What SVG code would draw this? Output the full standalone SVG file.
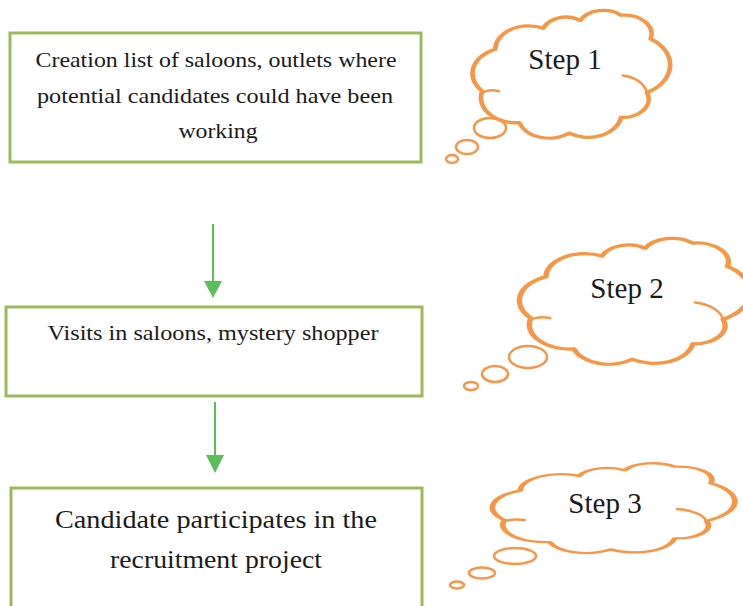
<svg xmlns="http://www.w3.org/2000/svg" width="743" height="606" viewBox="0 0 743 606">
<style>
.box{fill:#fff;stroke:#9BBB59;stroke-width:3}
.txt{font-family:"Liberation Serif",serif;fill:#1a1a1a;text-anchor:middle}
.cloud{fill:#fff;stroke:#F79646;stroke-width:2.5;vector-effect:non-scaling-stroke;stroke-linejoin:round}
.hook{fill:none;stroke:#F79646;stroke-width:2.5;vector-effect:non-scaling-stroke;stroke-linecap:round}
.bub{fill:#fff;stroke:#F79646;stroke-width:2.5}
.conn{stroke:#5BBD5B;stroke-width:2;fill:none}
.head{fill:#5BBD5B}
</style>
<defs>
<path id="cloudShape" d="M12,30 A18,18 0 0 1 38,14 A13,13 0 0 1 58,8 A14,14 0 0 1 80,4 A14.5,14.5 0 0 1 96,22 A24,24 0 0 1 94,63 A14,14 0 0 1 80,82 A18,18 0 0 1 52,94 A17,17 0 0 1 25,86 A19,19 0 0 1 5,62 A20,20 0 0 1 12,30 Z"/>
</defs>
<rect width="743" height="606" fill="#fff"/>

<g id="connectors">
<line class="conn" x1="213" y1="224" x2="213" y2="284"/>
<polygon class="head" points="204,281 222,281 213,298"/>
<line class="conn" x1="215" y1="402" x2="215" y2="458"/>
<polygon class="head" points="206,455 224,455 215,473"/>
</g>

<g id="box1">
<rect class="box" x="10" y="33" width="411" height="129"/>
<text class="txt" x="216" y="67" font-size="21" textLength="361" lengthAdjust="spacingAndGlyphs">Creation list of saloons, outlets where</text>
<text class="txt" x="215" y="103" font-size="21" textLength="356" lengthAdjust="spacingAndGlyphs">potential candidates could have been</text>
<text class="txt" x="218" y="138" font-size="21" textLength="79" lengthAdjust="spacingAndGlyphs">working</text>
</g>

<g id="box2">
<rect class="box" x="6" y="307" width="416" height="89"/>
<text class="txt" x="213" y="340" font-size="21" textLength="331" lengthAdjust="spacingAndGlyphs">Visits in saloons, mystery shopper</text>
</g>

<g id="box3">
<rect class="box" x="11" y="488" width="411" height="140"/>
<text class="txt" x="216" y="528" font-size="25" textLength="322" lengthAdjust="spacingAndGlyphs">Candidate participates in the</text>
<text class="txt" x="216" y="568" font-size="25" textLength="212" lengthAdjust="spacingAndGlyphs">recruitment project</text>
</g>

<g id="step1">
<ellipse class="bub" cx="452" cy="159" rx="6" ry="4"/>
<ellipse class="bub" cx="467" cy="147" rx="11" ry="7"/>
<ellipse class="bub" cx="490" cy="128" rx="16" ry="10"/>
<g transform="translate(473,10) scale(1.85,1.31)">
<use href="#cloudShape" class="cloud"/>
<path class="hook" d="M81,50 A16,16 0 0 1 94,63"/>
<path class="hook" d="M4,64 A10,10 0 0 1 14,62"/>
</g>
<text class="txt" x="565" y="69" font-size="29">Step 1</text>
</g>

<g id="step2">
<ellipse class="bub" cx="471" cy="386" rx="7" ry="4"/>
<ellipse class="bub" cx="495" cy="374" rx="13" ry="8"/>
<ellipse class="bub" cx="528" cy="357" rx="19" ry="11"/>
<g transform="translate(520,238) scale(2.16,1.29)">
<use href="#cloudShape" class="cloud"/>
<path class="hook" d="M81,50 A16,16 0 0 1 94,63"/>
<path class="hook" d="M4,64 A10,10 0 0 1 14,62"/>
</g>
<text class="txt" x="627" y="298" font-size="29">Step 2</text>
</g>

<g id="step3">
<ellipse class="bub" cx="457" cy="585" rx="7" ry="3.5"/>
<ellipse class="bub" cx="482" cy="573" rx="13" ry="5.5"/>
<ellipse class="bub" cx="515" cy="556" rx="21" ry="8"/>
<g transform="translate(493,463) scale(2.27,0.92)">
<use href="#cloudShape" class="cloud"/>
<path class="hook" d="M81,50 A16,16 0 0 1 94,63"/>
<path class="hook" d="M4,64 A10,10 0 0 1 14,62"/>
</g>
<text class="txt" x="605" y="513" font-size="29">Step 3</text>
</g>
</svg>
